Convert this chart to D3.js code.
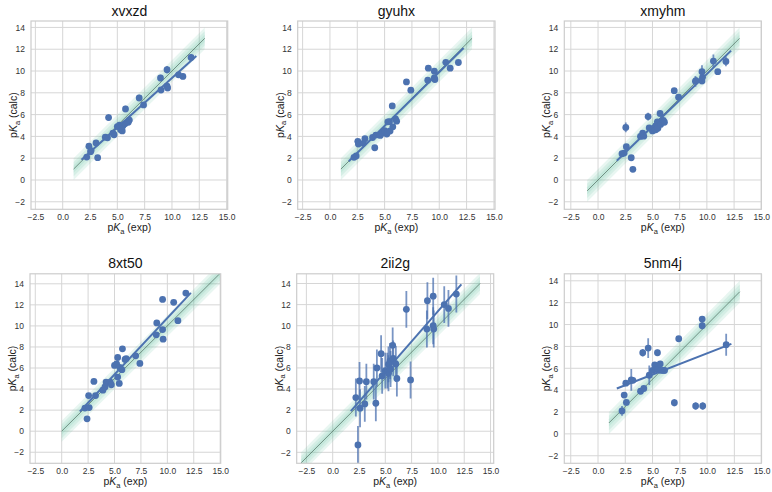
<!DOCTYPE html>
<html><head><meta charset="utf-8">
<script src="https://cdn.jsdelivr.net/npm/d3@7"></script>
<style>
html,body{margin:0;padding:0;background:#fff;}
svg{display:block;font-family:"Liberation Sans", Arial, sans-serif;}
</style></head><body>
<svg id="chart" width="772" height="492"></svg>
<script>
// ---------------- data ----------------
const panelNames = ["xvxzd", "gyuhx", "xmyhm", "8xt50", "2ii2g", "5nm4j"];
const pKaExp = [2.2, 2.4, 2.55, 2.6, 3.05, 3.2, 3.9, 4.1, 4.2, 4.6, 4.7, 5.0, 5.2, 5.3, 5.3, 5.45, 5.5, 5.7, 5.75, 6.0, 6.1, 7.0, 7.4, 8.95, 9.0, 9.55, 9.55, 9.6, 10.6, 11.0, 11.75];

const calc_xvxzd = [2.1, 3.1, 2.6, 2.7, 3.4, 2.05, 3.93, 3.87, 5.73, 4.3, 4.15, 4.9, 5.03, 4.85, 4.6, 4.5, 4.95, 5.15, 6.52, 5.3, 5.5, 7.53, 6.89, 9.36, 8.26, 10.12, 8.6, 8.45, 9.65, 9.5, 11.25];
const err_xvxzd  = [0.2, 0.2, 0.2, 0.2, 0.2, 0.2, 0.2, 0.2, 0.3, 0.2, 0.2, 0.2, 0.2, 0.2, 0.2, 0.2, 0.2, 0.2, 0.3, 0.2, 0.2, 0.3, 0.25, 0.3, 0.25, 0.35, 0.3, 0.3, 0.3, 0.25, 0.3];

const calc_gyuhx = [2.08, 2.2, 3.55, 3.3, 3.36, 3.79, 3.9, 2.96, 4.12, 4.09, 4.27, 4.52, 4.21, 5.34, 4.4, 5.35, 4.5, 6.8, 4.88, 5.6, 5.4, 9.0, 8.24, 9.16, 10.26, 9.98, 9.37, 9.22, 10.8, 10.26, 10.78];
const err_gyuhx  = [0.1, 0.1, 0.1, 0.1, 0.1, 0.1, 0.1, 0.1, 0.1, 0.1, 0.1, 0.1, 0.1, 0.1, 0.1, 0.1, 0.1, 0.1, 0.1, 0.1, 0.1, 0.1, 0.1, 0.1, 0.1, 0.1, 0.1, 0.1, 0.1, 0.1, 0.1];

const calc_xmyhm = [2.41, 2.47, 4.82, 3.05, 2.04, 0.98, 4.0, 4.3, 4.02, 5.82, 4.79, 4.5, 4.6, 4.97, 4.6, 5.34, 4.75, 6.1, 5.1, 5.46, 5.3, 8.2, 7.6, 9.05, 9.12, 9.94, 9.09, 9.42, 10.91, 9.94, 10.88];
const err_xmyhm  = [0.15, 0.15, 0.45, 0.15, 0.15, 0.15, 0.15, 0.15, 0.15, 0.35, 0.15, 0.15, 0.15, 0.15, 0.15, 0.15, 0.15, 0.2, 0.15, 0.15, 0.15, 0.15, 0.2, 0.5, 0.3, 0.6, 0.3, 0.3, 0.6, 0.15, 0.45];

const calc_8xt50 = [2.2, 1.17, 3.38, 2.24, 4.73, 3.38, 3.9, 4.2, 4.67, 4.67, 4.4, 6.25, 6.4, 7.0, 5.14, 4.54, 6.06, 5.84, 7.82, 6.81, 6.88, 7.16, 6.44, 9.15, 10.28, 12.52, 9.65, 8.74, 12.24, 10.5, 13.12];
const err_8xt50  = [0.1, 0.1, 0.1, 0.1, 0.1, 0.1, 0.1, 0.1, 0.1, 0.1, 0.1, 0.1, 0.1, 0.1, 0.1, 0.1, 0.1, 0.1, 0.1, 0.1, 0.1, 0.1, 0.1, 0.1, 0.1, 0.1, 0.1, 0.1, 0.1, 0.1, 0.1];

const calc_2ii2g = [3.19, -1.3, 4.76, 2.18, 2.59, 4.7, 4.7, 2.65, 6.0, 7.35, 5.24, 5.74, 5.74, 6.34, 5.49, 6.66, 5.9, 8.14, 6.9, 6.37, 5.0, 11.55, 4.86, 9.68, 12.37, 12.8, 10.0, 9.68, 12.0, 11.64, 13.0];
const err_2ii2g  = [1.8, 1.8, 1.8, 1.8, 1.7, 1.7, 1.7, 1.7, 1.75, 1.75, 1.7, 1.7, 1.7, 1.7, 1.7, 1.7, 1.7, 1.7, 1.7, 1.7, 1.7, 1.75, 1.75, 1.75, 1.75, 1.75, 1.75, 1.75, 1.75, 1.75, 1.75];

const calc_5nm4j = [2.1, 3.55, 4.64, 2.88, 4.94, 4.9, 3.9, 7.42, 4.15, 7.85, 5.36, 5.8, 6.3, 6.2, 5.9, 7.42, 5.9, 6.4, 5.8, 5.8, 5.8, 2.85, 8.7, 2.55, null, 10.5, 9.9, 2.55, null, null, 8.15];
const err_5nm4j  = [0.45, 0.15, 0.15, 0.15, 1.0, 0.15, 0.15, 0.35, 0.15, 0.9, 0.9, 0.15, 0.15, 0.15, 0.15, 0.3, 0.15, 0.15, 0.15, 0.15, 0.15, 0.35, 0.15, 0.35, null, 0.15, 0.35, 0.35, null, null, 1.0];

const calcSeries = [calc_xvxzd, calc_gyuhx, calc_xmyhm, calc_8xt50, calc_2ii2g, calc_5nm4j];
const errSeries  = [err_xvxzd, err_gyuhx, err_xmyhm, err_8xt50, err_2ii2g, err_5nm4j];

const xTicks = [-2.5, 0, 2.5, 5, 7.5, 10, 12.5, 15];
const yTicks = [-2, 0, 2, 4, 6, 8, 10, 12, 14];
const xDomains = [[-2.9, 15.1], [-2.95, 15.1], [-3.1, 15.0], [-3.0, 15.05], [-3.42, 15.3], [-3.09, 14.97]];
const yDomains = [[-2.69, 14.59], [-2.69, 14.59], [-2.69, 14.59], [-3.05, 14.95], [-3.04, 14.92], [-2.69, 14.64]];
const bandHalfWidths = [1.0, 0.66, 0.33];

// ---------------- layout ----------------
const boxes = [
  {l: 31,    t: 21,    r: 227.7, b: 209.3},
  {l: 297.7, t: 21,    r: 495,   b: 209.3},
  {l: 564.3, t: 21,    r: 761.3, b: 209.3},
  {l: 30,    t: 273.8, r: 220.7, b: 463.3},
  {l: 296.7, t: 273.8, r: 493.7, b: 463.3},
  {l: 564.3, t: 273.8, r: 761.3, b: 463.3}
];
const BLUE = "#4c72b0";
const svg = d3.select("#chart");
const defs = svg.append("defs");

function addPKaLabel(sel, suffix) {
  sel.append("tspan").text("p");
  sel.append("tspan").attr("font-style", "italic").text("K");
  sel.append("tspan").attr("font-size", "7.5px").attr("dy", 2.6).text("a");
  sel.append("tspan").attr("dy", -2.6).text(" " + suffix);
}

panelNames.forEach((name, i) => {
  const bx = boxes[i];
  const x = d3.scaleLinear().domain(xDomains[i]).range([bx.l, bx.r]);
  const y = d3.scaleLinear().domain(yDomains[i]).range([bx.b, bx.t]);
  const g = svg.append("g");

  defs.append("clipPath").attr("id", "clip" + i)
    .append("rect").attr("x", bx.l).attr("y", bx.t)
    .attr("width", bx.r - bx.l).attr("height", bx.b - bx.t);

  // grid
  g.append("g").selectAll("line").data(xTicks).join("line")
    .attr("x1", d => x(d)).attr("x2", d => x(d))
    .attr("y1", bx.t).attr("y2", bx.b)
    .attr("stroke", "#d6d6d6").attr("stroke-width", 1);
  g.append("g").selectAll("line").data(yTicks).join("line")
    .attr("y1", d => y(d)).attr("y2", d => y(d))
    .attr("x1", bx.l).attr("x2", bx.r)
    .attr("stroke", "#d6d6d6").attr("stroke-width", 1);

  const ys = calcSeries[i], es = errSeries[i];
  const pts = pKaExp.map((xv, k) => ({x: xv, y: ys[k], e: es[k]})).filter(d => d.y != null);

  const plot = g.append("g").attr("clip-path", `url(#clip${i})`);

  // identity band range
  const allv = pts.flatMap(d => [d.x, d.y]);
  const lo = Math.floor(d3.min(allv)) - 1, hi = Math.ceil(d3.max(allv)) + 1;
  bandHalfWidths.forEach(w => {
    const area = d3.area().x(d => x(d)).y0(d => y(d - w)).y1(d => y(d + w));
    plot.append("path").datum([lo, hi]).attr("d", area)
      .attr("fill", "#66c2a4").attr("fill-opacity", 0.15);
  });
  plot.append("line")
    .attr("x1", x(lo)).attr("y1", y(lo)).attr("x2", x(hi)).attr("y2", y(hi))
    .attr("stroke", "#4a6a5c").attr("stroke-width", 0.7);

  // error bars
  plot.append("g").selectAll("line").data(pts).join("line")
    .attr("x1", d => x(d.x)).attr("x2", d => x(d.x))
    .attr("y1", d => y(d.y - d.e)).attr("y2", d => y(d.y + d.e))
    .attr("stroke", BLUE).attr("stroke-opacity", 0.75).attr("stroke-width", 1.8);
  // points
  plot.append("g").selectAll("circle").data(pts).join("circle")
    .attr("cx", d => x(d.x)).attr("cy", d => y(d.y)).attr("r", 3.4)
    .attr("fill", BLUE);

  // OLS regression line
  const mx = d3.mean(pts, d => d.x), my = d3.mean(pts, d => d.y);
  const sxy = d3.sum(pts, d => (d.x - mx) * (d.y - my));
  const sxx = d3.sum(pts, d => (d.x - mx) ** 2);
  const slope = sxy / sxx, icpt = my - slope * mx;
  const [xmin, xmax] = d3.extent(pts, d => d.x);
  const pad = 0.05 * (xmax - xmin);
  const xs = [xmin - pad, xmax + pad];
  plot.append("path").datum(xs)
    .attr("d", d3.line().x(d => x(d)).y(d => y(icpt + slope * d)))
    .attr("stroke", BLUE).attr("stroke-width", 2).attr("fill", "none");

  // frame
  g.append("rect").attr("x", bx.l).attr("y", bx.t)
    .attr("width", bx.r - bx.l).attr("height", bx.b - bx.t)
    .attr("fill", "none").attr("stroke", "#cccccc").attr("stroke-width", 1.2);

  // axes
  const xa = g.append("g").attr("transform", `translate(0,${bx.b})`)
    .call(d3.axisBottom(x).tickValues(xTicks).tickFormat(d3.format(".1f")).tickSize(0).tickPadding(5));
  const ya = g.append("g").attr("transform", `translate(${bx.l},0)`)
    .call(d3.axisLeft(y).tickValues(yTicks).tickFormat(d3.format("d")).tickSize(0).tickPadding(6));
  [xa, ya].forEach(a => {
    a.select(".domain").remove();
    a.selectAll("text").attr("font-size", "8.5px").attr("fill", "#333")
      .attr("font-family", '"Liberation Sans", Arial, sans-serif');
  });

  // title
  g.append("text").attr("x", (bx.l + bx.r) / 2).attr("y", bx.t - 5.5)
    .attr("text-anchor", "middle").attr("font-size", "14px").attr("fill", "#111").text(name);

  // axis labels
  const xl = g.append("text").attr("x", (bx.l + bx.r) / 2).attr("y", bx.b + 22)
    .attr("text-anchor", "middle").attr("font-size", "10.5px").attr("fill", "#222");
  addPKaLabel(xl, "(exp)");
  const yl = g.append("text")
    .attr("transform", `translate(${bx.l - 14},${(bx.t + bx.b) / 2}) rotate(-90)`)
    .attr("text-anchor", "middle").attr("font-size", "10.5px").attr("fill", "#222");
  addPKaLabel(yl, "(calc)");
});
</script>
</body></html>
